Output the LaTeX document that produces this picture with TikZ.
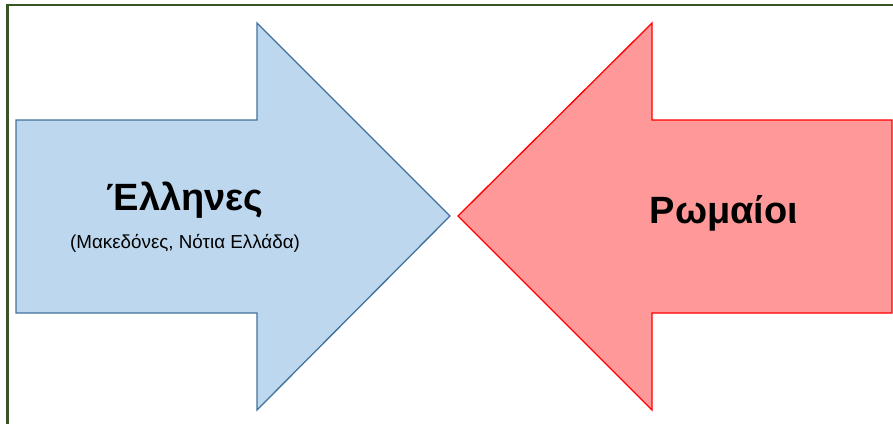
\documentclass[tikz,border=0pt]{standalone}
\usepackage{fontspec}
\setmainfont{Liberation Sans}
\definecolor{framegreen}{HTML}{375623}
\definecolor{bluefill}{HTML}{BDD7EE}
\definecolor{blueedge}{HTML}{41719C}
\definecolor{redfill}{HTML}{FF9999}
\definecolor{rededge}{HTML}{FF0000}
\tikzset{
	bigname/.style={font=\bfseries\fontsize{38}{40}\selectfont, anchor=base},
	smallname/.style={font=\fontsize{18.8}{21}\selectfont, anchor=base}
}
\begin{document}
\begin{tikzpicture}[x=1pt, y=-1pt]
	\useasboundingbox (0, 0) rectangle (893, 423);
	\draw[framegreen, line width=2.2pt] (7.5, 430) -- (7.5, 5) -- (900, 5);
	\draw[blueedge, fill=bluefill, line width=1.3pt] (16, 120) -- (257, 120) -- (257, 23) -- (450, 216) -- (257, 410) -- (257, 313) -- (16, 313) -- cycle;
	\draw[rededge, fill=redfill, line width=1.3pt] (892, 120) -- (652, 120) -- (652, 23) -- (458, 216) -- (652, 410) -- (652, 313) -- (892, 313) -- cycle;
	\node[bigname] (greeks) at (185, 210) {Έλληνες};
	\node[smallname] (greeksub) at (185, 248) {(Μακεδόνες, Νότια Ελλάδα)};
	\node[bigname] (romans) at (724, 223) {Ρωμαίοι};
\end{tikzpicture}
\end{document}
